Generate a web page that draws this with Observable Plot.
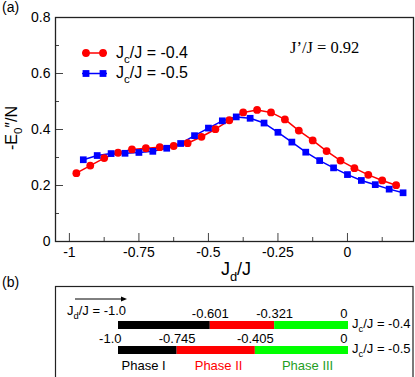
<!DOCTYPE html>
<html><head><meta charset="utf-8">
<script src="https://cdn.jsdelivr.net/npm/d3@7"></script>
<script src="https://cdn.jsdelivr.net/npm/@observablehq/plot@0.6"></script>
<style>
body{margin:0;background:#fff;}
#wrap{position:relative;width:415px;height:377px;overflow:hidden;background:#fff;}
#wrap svg{display:block;overflow:visible;}
</style></head><body><div id="wrap"></div>
<script>
// ---------- panel (a) data ----------
const jdRed = [-0.975,-0.925,-0.875,-0.825,-0.775,-0.725,-0.675,-0.625,-0.575,-0.525,-0.475,-0.425,-0.375,-0.325,-0.275,-0.225,-0.175,-0.125,-0.075,-0.025,0.025,0.075,0.125,0.175];
const eRed = [0.244,0.271,0.298,0.317,0.329,0.333,0.337,0.341,0.351,0.374,0.401,0.433,0.461,0.470,0.461,0.436,0.396,0.361,0.323,0.289,0.262,0.238,0.218,0.201];
const jdBlue = [-0.95,-0.90,-0.85,-0.80,-0.75,-0.70,-0.65,-0.60,-0.55,-0.50,-0.45,-0.40,-0.35,-0.30,-0.25,-0.20,-0.15,-0.10,-0.05,0.00,0.05,0.10,0.15,0.20];
const eBlue = [0.292,0.307,0.314,0.315,0.318,0.322,0.333,0.350,0.378,0.405,0.431,0.445,0.440,0.423,0.390,0.355,0.319,0.289,0.263,0.239,0.218,0.203,0.187,0.174];
const seriesLabels = ["-0.4","-0.5"];
const seriesColors = ["#ff0000","#0000ff"];
const xTicks = [-1,-0.75,-0.5,-0.25,0];
const xTickLabels = ["-1","-0.75","-0.5","-0.25","0"];
const xMinorTicks = [-0.875,-0.625,-0.375,-0.125,0.125];
const yTicks = [0,0.2,0.4,0.6,0.8];
const yTickLabels = ["0","0.2","0.4","0.6","0.8"];
const yMinorTicks = [0.1,0.3,0.5,0.7];
const couplingText = "J’/J = 0.92";

// ---------- panel (b) data ----------
const phaseRows = ["-0.4","-0.5"];
const phaseStart = [[-1.0,-0.601,-0.321],[-1.0,-0.745,-0.405]];
const phaseEnd = [[-0.601,-0.321,0],[-0.745,-0.405,0]];
const phaseNames = ["Phase I","Phase II","Phase III"];
const phaseFill = ["#000000","#ff0000","#00ff00"];
const phaseTextFill = ["#000000","#ff0000","#1f9e1f"];
const phaseLabelAt = [-0.891,-0.565,-0.178];
const boundaryRow = ["-0.4","-0.4","-0.4","-0.5","-0.5","-0.5","-0.5"];
const boundaryValue = [-0.601,-0.321,0,-1.0,-0.745,-0.405,0];
const boundaryText = ["-0.601","-0.321","0","-1.0","-0.745","-0.405","0"];
const boundaryAnchor = ["middle","middle","end","end","middle","middle","end"];

const FONT = "'Liberation Sans', Arial, Helvetica, sans-serif";
const wrap = document.getElementById("wrap");

const redPts = jdRed.map((x,i)=>({x, y:eRed[i]}));
const bluePts = jdBlue.map((x,i)=>({x, y:eBlue[i]}));

const W = 415, H = 283, ML = 55, MR = 2, MT = 17, MB = 42;
const frameW = W - ML - MR, frameH = H - MT - MB;

const chartA = Plot.plot({
  width: W, height: H,
  marginLeft: ML, marginRight: MR, marginTop: MT, marginBottom: MB,
  style: {fontFamily: FONT, overflow: "visible", background: "transparent"},
  x: {domain: [-1.05, 0.2375]},
  y: {domain: [0, 0.8]},
  marks: [
    Plot.axisX(xTicks, {tickSize: 0, tickPadding: 6, fontSize: 14, fill: "#000", tickFormat: d => xTickLabels[xTicks.indexOf(d)], label: null}),
    Plot.axisY(yTicks, {tickSize: 0, tickPadding: 5, fontSize: 14, fill: "#000", tickFormat: d => yTickLabels[yTicks.indexOf(d)], label: null}),
    Plot.tickX(xTicks, {x: d => d, insetTop: frameH - 8, stroke: "#444"}),
    Plot.tickX(xMinorTicks, {x: d => d, insetTop: frameH - 4, stroke: "#444"}),
    Plot.tickY(yTicks, {y: d => d, insetRight: frameW - 8, stroke: "#444"}),
    Plot.tickY(yMinorTicks, {y: d => d, insetRight: frameW - 4, stroke: "#444"}),
    Plot.line(redPts, {x: "x", y: "y", stroke: seriesColors[0], strokeWidth: 1.5}),
    Plot.line(bluePts, {x: "x", y: "y", stroke: seriesColors[1], strokeWidth: 1.5}),
    Plot.dot(redPts, {x: "x", y: "y", r: 3.9, fill: seriesColors[0], stroke: "none"}),
    Plot.dot(bluePts, {x: "x", y: "y", r: 3.8, symbol: "square", fill: seriesColors[1], stroke: "none"}),
    Plot.frame({stroke: "#222", strokeWidth: 1.3})
  ]
});
wrap.appendChild(chartA);

function rich(sel, x, y, parts, size, anchor) {
  const t = sel.append("text").attr("x", x).attr("y", y)
    .attr("font-size", size).attr("text-anchor", anchor || "start")
    .attr("fill", "#000").attr("font-family", FONT);
  let shifted = false;
  for (const [s, sub] of parts) {
    const tsp = t.append("tspan").text(s);
    if (sub) { tsp.attr("font-size", size*0.72).attr("dy", size*0.32); shifted = true; }
    else if (shifted) { tsp.attr("dy", -size*0.32); shifted = false; }
  }
  return t;
}

const sa = d3.select(chartA);
sa.append("text").attr("x", 2).attr("y", 12).attr("font-size", 14).attr("text-anchor","start")
  .attr("font-family", FONT).attr("fill","#000").text("(a)");
const yl = sa.append("g").attr("transform", "translate(17,128) rotate(-90)");
rich(yl, 0, 0, [["-E", false], ["0", true], ["″/N", false]], 16, "middle");
rich(sa, 236, 275, [["J", false], ["d", true], ["/J", false]], 18, "middle");
sa.append("text").attr("x", 290).attr("y", 53).attr("font-size", 16.5).attr("text-anchor","start")
  .attr("font-family", "'Liberation Serif','Times New Roman',serif").attr("fill","#000").text(couplingText);
const legY = [53, 73.5];
seriesLabels.forEach((lab, i) => {
  const y = legY[i], c = seriesColors[i];
  sa.append("line").attr("x1", 82).attr("x2", 107).attr("y1", y).attr("y2", y)
    .attr("stroke", c).attr("stroke-width", 1.5);
  [86, 103].forEach(cx => {
    if (i === 0) sa.append("circle").attr("cx", cx).attr("cy", y).attr("r", 3.9).attr("fill", c);
    else sa.append("rect").attr("x", cx-3.4).attr("y", y-3.4).attr("width", 6.8).attr("height", 6.8).attr("fill", c);
  });
  rich(sa, 116, y + 4.5, [["J", false], ["c", true], ["/J = " + lab, false]], 16, "start");
});

// ---------- panel (b) ----------
const segs = [];
phaseRows.forEach((row, r) => phaseNames.forEach((p, k) =>
  segs.push({row, x1: phaseStart[r][k], x2: phaseEnd[r][k], fill: phaseFill[k]})));
const bounds = boundaryValue.map((x, i) => ({x, row: boundaryRow[i], text: boundaryText[i], anchor: boundaryAnchor[i]}));
const plabels = phaseNames.map((name, k) => ({x: phaseLabelAt[k], row: phaseRows[1], name, fill: phaseTextFill[k]}));

const chartB = Plot.plot({
  width: 415, height: 94,
  marginLeft: 118, marginRight: 67, marginTop: 3, marginBottom: 0,
  style: {fontFamily: FONT, overflow: "visible", background: "transparent"},
  x: {domain: [-1, 0], axis: null},
  y: {type: "band", domain: phaseRows, range: [38, 71], paddingInner: 0.68, paddingOuter: 0, axis: null},
  color: {type: "identity"},
  marks: [
    Plot.barX(segs, {x1: "x1", x2: "x2", y: "row", fill: "fill"}),
    Plot.text(bounds.filter(d => d.anchor === "middle"), {x: "x", y: "row", text: "text", dy: -7.5, lineAnchor: "bottom", textAnchor: "middle", fontSize: 13, fill: "#000"}),
    Plot.text(bounds.filter(d => d.anchor === "end" && d.x === 0), {x: "x", y: "row", text: "text", dy: -7.5, dx: -1, lineAnchor: "bottom", textAnchor: "end", fontSize: 13, fill: "#000"}),
    Plot.text(bounds.filter(d => d.anchor === "end" && d.x !== 0), {x: "x", y: "row", text: "text", dy: -7.5, dx: 3, lineAnchor: "bottom", textAnchor: "end", fontSize: 13, fill: "#000"}),
    Plot.text(plabels, {x: "x", y: "row", text: "name", fill: "fill", dy: 19, lineAnchor: "bottom", textAnchor: "middle", fontSize: 13})
  ]
});
wrap.appendChild(chartB);
const sb = d3.select(chartB);
sb.insert("rect", ":first-child").attr("x", 55.5).attr("y", 3.5).attr("width", 357.5).attr("height", 100)
  .attr("fill", "none").attr("stroke", "#222").attr("stroke-width", 1.2);
sb.append("text").attr("x", 2).attr("y", 4).attr("font-size", 14).attr("text-anchor","start")
  .attr("font-family", FONT).attr("fill","#000").text("(b)");
sb.append("line").attr("x1", 75).attr("x2", 124).attr("y1", 16).attr("y2", 16).attr("stroke", "#000").attr("stroke-width", 1);
sb.append("path").attr("d", "M121,13.5 L127,16 L121,18.5 Z").attr("fill", "#000");
rich(sb, 67, 32, [["J", false], ["d", true], ["/J = -1.0", false]], 13, "start");
const xsB = chartB.scale("x"), ysB = chartB.scale("y");
phaseRows.forEach(row => {
  rich(sb, xsB.apply(0) + 4, ysB.apply(row) + ysB.bandwidth - 1, [["J", false], ["c", true], ["/J = " + row, false]], 13, "start");
});
</script></body></html>
